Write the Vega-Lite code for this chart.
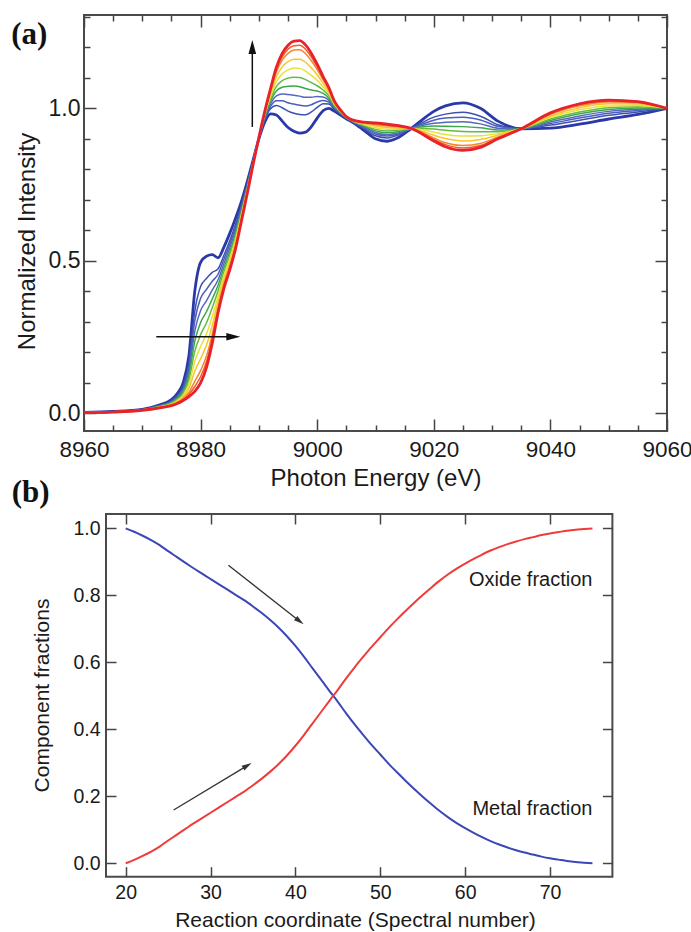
{
"$schema": "https://vega.github.io/schema/vega-lite/v6.json",
"padding": {"left": 10, "top": 4, "right": 0, "bottom": 0},
"background": "white",
"bounds": "flush",
"spacing": 83,
"resolve": {"scale": {"color": "independent"}},
"datasets": {
"spectra": [
{"f":0,"E":8960,"v":0.003},{"f":0,"E":8965,"v":0.006},{"f":0,"E":8970,"v":0.013},{"f":0,"E":8973,"v":0.028},{"f":0,"E":8975,"v":0.045},{"f":0,"E":8976,"v":0.065},{"f":0,"E":8977,"v":0.1},{"f":0,"E":8978,"v":0.19},{"f":0,"E":8979,"v":0.4},{"f":0,"E":8980,"v":0.495},{"f":0,"E":8981,"v":0.515},{"f":0,"E":8982,"v":0.52},{"f":0,"E":8983,"v":0.51},{"f":0,"E":8984,"v":0.545},{"f":0,"E":8985,"v":0.59},{"f":0,"E":8986,"v":0.64},{"f":0,"E":8987,"v":0.695},{"f":0,"E":8988,"v":0.76},{"f":0,"E":8989,"v":0.83},{"f":0,"E":8990,"v":0.9},{"f":0,"E":8991,"v":0.955},{"f":0,"E":8992,"v":0.982},{"f":0,"E":8993,"v":0.978},{"f":0,"E":8994,"v":0.958},{"f":0,"E":8995,"v":0.937},{"f":0,"E":8996,"v":0.925},{"f":0,"E":8997,"v":0.919},{"f":0,"E":8998,"v":0.922},{"f":0,"E":8999,"v":0.94},{"f":0,"E":9000,"v":0.968},{"f":0,"E":9001,"v":0.992},{"f":0,"E":9002,"v":1.0},{"f":0,"E":9003,"v":0.99},{"f":0,"E":9004,"v":0.978},{"f":0,"E":9005,"v":0.966},{"f":0,"E":9006,"v":0.955},{"f":0,"E":9008,"v":0.928},{"f":0,"E":9010,"v":0.9},{"f":0,"E":9012,"v":0.892},{"f":0,"E":9014,"v":0.905},{"f":0,"E":9016,"v":0.932},{"f":0,"E":9018,"v":0.962},{"f":0,"E":9020,"v":0.99},{"f":0,"E":9022,"v":1.008},{"f":0,"E":9025,"v":1.018},{"f":0,"E":9028,"v":1.0},{"f":0,"E":9031,"v":0.958},{"f":0,"E":9035,"v":0.933},{"f":0,"E":9040,"v":0.935},{"f":0,"E":9045,"v":0.948},{"f":0,"E":9050,"v":0.965},{"f":0,"E":9055,"v":0.98},{"f":0,"E":9060,"v":1.0},
{"f":0.2,"E":8960,"v":0.003},{"f":0.2,"E":8965,"v":0.006},{"f":0.2,"E":8970,"v":0.012},{"f":0.2,"E":8973,"v":0.026},{"f":0.2,"E":8975,"v":0.041},{"f":0.2,"E":8976,"v":0.058},{"f":0.2,"E":8977,"v":0.088},{"f":0.2,"E":8978,"v":0.163},{"f":0.2,"E":8979,"v":0.334},{"f":0.2,"E":8980,"v":0.416},{"f":0.2,"E":8981,"v":0.442},{"f":0.2,"E":8982,"v":0.462},{"f":0.2,"E":8983,"v":0.474},{"f":0.2,"E":8984,"v":0.518},{"f":0.2,"E":8985,"v":0.566},{"f":0.2,"E":8986,"v":0.62},{"f":0.2,"E":8987,"v":0.682},{"f":0.2,"E":8988,"v":0.752},{"f":0.2,"E":8989,"v":0.827},{"f":0.2,"E":8990,"v":0.901},{"f":0.2,"E":8991,"v":0.962},{"f":0.2,"E":8992,"v":0.999},{"f":0.2,"E":8993,"v":1.009},{"f":0.2,"E":8994,"v":1.002},{"f":0.2,"E":8995,"v":0.991},{"f":0.2,"E":8996,"v":0.984},{"f":0.2,"E":8997,"v":0.98},{"f":0.2,"E":8998,"v":0.979},{"f":0.2,"E":8999,"v":0.988},{"f":0.2,"E":9000,"v":1.003},{"f":0.2,"E":9001,"v":1.015},{"f":0.2,"E":9002,"v":1.014},{"f":0.2,"E":9003,"v":0.996},{"f":0.2,"E":9004,"v":0.981},{"f":0.2,"E":9005,"v":0.967},{"f":0.2,"E":9006,"v":0.956},{"f":0.2,"E":9008,"v":0.933},{"f":0.2,"E":9010,"v":0.91},{"f":0.2,"E":9012,"v":0.903},{"f":0.2,"E":9014,"v":0.913},{"f":0.2,"E":9016,"v":0.933},{"f":0.2,"E":9018,"v":0.953},{"f":0.2,"E":9020,"v":0.971},{"f":0.2,"E":9022,"v":0.981},{"f":0.2,"E":9025,"v":0.987},{"f":0.2,"E":9028,"v":0.974},{"f":0.2,"E":9031,"v":0.946},{"f":0.2,"E":9035,"v":0.933},{"f":0.2,"E":9040,"v":0.945},{"f":0.2,"E":9045,"v":0.961},{"f":0.2,"E":9050,"v":0.977},{"f":0.2,"E":9055,"v":0.988},{"f":0.2,"E":9060,"v":1.0},
{"f":0.3,"E":8960,"v":0.003},{"f":0.3,"E":8965,"v":0.005},{"f":0.3,"E":8970,"v":0.012},{"f":0.3,"E":8973,"v":0.025},{"f":0.3,"E":8975,"v":0.039},{"f":0.3,"E":8976,"v":0.055},{"f":0.3,"E":8977,"v":0.083},{"f":0.3,"E":8978,"v":0.15},{"f":0.3,"E":8979,"v":0.302},{"f":0.3,"E":8980,"v":0.377},{"f":0.3,"E":8981,"v":0.406},{"f":0.3,"E":8982,"v":0.433},{"f":0.3,"E":8983,"v":0.456},{"f":0.3,"E":8984,"v":0.505},{"f":0.3,"E":8985,"v":0.554},{"f":0.3,"E":8986,"v":0.61},{"f":0.3,"E":8987,"v":0.676},{"f":0.3,"E":8988,"v":0.748},{"f":0.3,"E":8989,"v":0.826},{"f":0.3,"E":8990,"v":0.902},{"f":0.3,"E":8991,"v":0.966},{"f":0.3,"E":8992,"v":1.007},{"f":0.3,"E":8993,"v":1.025},{"f":0.3,"E":8994,"v":1.025},{"f":0.3,"E":8995,"v":1.018},{"f":0.3,"E":8996,"v":1.014},{"f":0.3,"E":8997,"v":1.01},{"f":0.3,"E":8998,"v":1.008},{"f":0.3,"E":8999,"v":1.012},{"f":0.3,"E":9000,"v":1.021},{"f":0.3,"E":9001,"v":1.026},{"f":0.3,"E":9002,"v":1.02},{"f":0.3,"E":9003,"v":1.0},{"f":0.3,"E":9004,"v":0.983},{"f":0.3,"E":9005,"v":0.968},{"f":0.3,"E":9006,"v":0.957},{"f":0.3,"E":9008,"v":0.936},{"f":0.3,"E":9010,"v":0.916},{"f":0.3,"E":9012,"v":0.909},{"f":0.3,"E":9014,"v":0.916},{"f":0.3,"E":9016,"v":0.933},{"f":0.3,"E":9018,"v":0.948},{"f":0.3,"E":9020,"v":0.961},{"f":0.3,"E":9022,"v":0.968},{"f":0.3,"E":9025,"v":0.971},{"f":0.3,"E":9028,"v":0.962},{"f":0.3,"E":9031,"v":0.941},{"f":0.3,"E":9035,"v":0.933},{"f":0.3,"E":9040,"v":0.95},{"f":0.3,"E":9045,"v":0.968},{"f":0.3,"E":9050,"v":0.984},{"f":0.3,"E":9055,"v":0.993},{"f":0.3,"E":9060,"v":1.0},
{"f":0.4,"E":8960,"v":0.003},{"f":0.4,"E":8965,"v":0.005},{"f":0.4,"E":8970,"v":0.012},{"f":0.4,"E":8973,"v":0.024},{"f":0.4,"E":8975,"v":0.037},{"f":0.4,"E":8976,"v":0.052},{"f":0.4,"E":8977,"v":0.077},{"f":0.4,"E":8978,"v":0.136},{"f":0.4,"E":8979,"v":0.269},{"f":0.4,"E":8980,"v":0.337},{"f":0.4,"E":8981,"v":0.369},{"f":0.4,"E":8982,"v":0.404},{"f":0.4,"E":8983,"v":0.438},{"f":0.4,"E":8984,"v":0.491},{"f":0.4,"E":8985,"v":0.542},{"f":0.4,"E":8986,"v":0.6},{"f":0.4,"E":8987,"v":0.669},{"f":0.4,"E":8988,"v":0.744},{"f":0.4,"E":8989,"v":0.824},{"f":0.4,"E":8990,"v":0.902},{"f":0.4,"E":8991,"v":0.969},{"f":0.4,"E":8992,"v":1.015},{"f":0.4,"E":8993,"v":1.041},{"f":0.4,"E":8994,"v":1.047},{"f":0.4,"E":8995,"v":1.045},{"f":0.4,"E":8996,"v":1.043},{"f":0.4,"E":8997,"v":1.04},{"f":0.4,"E":8998,"v":1.036},{"f":0.4,"E":8999,"v":1.036},{"f":0.4,"E":9000,"v":1.039},{"f":0.4,"E":9001,"v":1.037},{"f":0.4,"E":9002,"v":1.027},{"f":0.4,"E":9003,"v":1.003},{"f":0.4,"E":9004,"v":0.985},{"f":0.4,"E":9005,"v":0.969},{"f":0.4,"E":9006,"v":0.958},{"f":0.4,"E":9008,"v":0.939},{"f":0.4,"E":9010,"v":0.921},{"f":0.4,"E":9012,"v":0.914},{"f":0.4,"E":9014,"v":0.92},{"f":0.4,"E":9016,"v":0.933},{"f":0.4,"E":9018,"v":0.944},{"f":0.4,"E":9020,"v":0.951},{"f":0.4,"E":9022,"v":0.954},{"f":0.4,"E":9025,"v":0.956},{"f":0.4,"E":9028,"v":0.949},{"f":0.4,"E":9031,"v":0.935},{"f":0.4,"E":9035,"v":0.933},{"f":0.4,"E":9040,"v":0.955},{"f":0.4,"E":9045,"v":0.975},{"f":0.4,"E":9050,"v":0.99},{"f":0.4,"E":9055,"v":0.997},{"f":0.4,"E":9060,"v":1.0},
{"f":0.5,"E":8960,"v":0.003},{"f":0.5,"E":8965,"v":0.005},{"f":0.5,"E":8970,"v":0.012},{"f":0.5,"E":8973,"v":0.023},{"f":0.5,"E":8975,"v":0.035},{"f":0.5,"E":8976,"v":0.049},{"f":0.5,"E":8977,"v":0.071},{"f":0.5,"E":8978,"v":0.123},{"f":0.5,"E":8979,"v":0.236},{"f":0.5,"E":8980,"v":0.298},{"f":0.5,"E":8981,"v":0.333},{"f":0.5,"E":8982,"v":0.375},{"f":0.5,"E":8983,"v":0.42},{"f":0.5,"E":8984,"v":0.478},{"f":0.5,"E":8985,"v":0.53},{"f":0.5,"E":8986,"v":0.59},{"f":0.5,"E":8987,"v":0.663},{"f":0.5,"E":8988,"v":0.74},{"f":0.5,"E":8989,"v":0.823},{"f":0.5,"E":8990,"v":0.903},{"f":0.5,"E":8991,"v":0.973},{"f":0.5,"E":8992,"v":1.024},{"f":0.5,"E":8993,"v":1.057},{"f":0.5,"E":8994,"v":1.069},{"f":0.5,"E":8995,"v":1.072},{"f":0.5,"E":8996,"v":1.073},{"f":0.5,"E":8997,"v":1.071},{"f":0.5,"E":8998,"v":1.065},{"f":0.5,"E":8999,"v":1.06},{"f":0.5,"E":9000,"v":1.057},{"f":0.5,"E":9001,"v":1.049},{"f":0.5,"E":9002,"v":1.034},{"f":0.5,"E":9003,"v":1.006},{"f":0.5,"E":9004,"v":0.987},{"f":0.5,"E":9005,"v":0.97},{"f":0.5,"E":9006,"v":0.959},{"f":0.5,"E":9008,"v":0.942},{"f":0.5,"E":9010,"v":0.926},{"f":0.5,"E":9012,"v":0.92},{"f":0.5,"E":9014,"v":0.924},{"f":0.5,"E":9016,"v":0.934},{"f":0.5,"E":9018,"v":0.939},{"f":0.5,"E":9020,"v":0.942},{"f":0.5,"E":9022,"v":0.941},{"f":0.5,"E":9025,"v":0.94},{"f":0.5,"E":9028,"v":0.936},{"f":0.5,"E":9031,"v":0.929},{"f":0.5,"E":9035,"v":0.933},{"f":0.5,"E":9040,"v":0.96},{"f":0.5,"E":9045,"v":0.982},{"f":0.5,"E":9050,"v":0.996},{"f":0.5,"E":9055,"v":1.001},{"f":0.5,"E":9060,"v":1.0},
{"f":0.6,"E":8960,"v":0.002},{"f":0.6,"E":8965,"v":0.005},{"f":0.6,"E":8970,"v":0.011},{"f":0.6,"E":8973,"v":0.022},{"f":0.6,"E":8975,"v":0.033},{"f":0.6,"E":8976,"v":0.045},{"f":0.6,"E":8977,"v":0.065},{"f":0.6,"E":8978,"v":0.109},{"f":0.6,"E":8979,"v":0.203},{"f":0.6,"E":8980,"v":0.258},{"f":0.6,"E":8981,"v":0.296},{"f":0.6,"E":8982,"v":0.346},{"f":0.6,"E":8983,"v":0.402},{"f":0.6,"E":8984,"v":0.464},{"f":0.6,"E":8985,"v":0.518},{"f":0.6,"E":8986,"v":0.58},{"f":0.6,"E":8987,"v":0.656},{"f":0.6,"E":8988,"v":0.736},{"f":0.6,"E":8989,"v":0.821},{"f":0.6,"E":8990,"v":0.903},{"f":0.6,"E":8991,"v":0.976},{"f":0.6,"E":8992,"v":1.032},{"f":0.6,"E":8993,"v":1.072},{"f":0.6,"E":8994,"v":1.091},{"f":0.6,"E":8995,"v":1.099},{"f":0.6,"E":8996,"v":1.102},{"f":0.6,"E":8997,"v":1.101},{"f":0.6,"E":8998,"v":1.094},{"f":0.6,"E":8999,"v":1.084},{"f":0.6,"E":9000,"v":1.074},{"f":0.6,"E":9001,"v":1.06},{"f":0.6,"E":9002,"v":1.041},{"f":0.6,"E":9003,"v":1.009},{"f":0.6,"E":9004,"v":0.988},{"f":0.6,"E":9005,"v":0.97},{"f":0.6,"E":9006,"v":0.959},{"f":0.6,"E":9008,"v":0.944},{"f":0.6,"E":9010,"v":0.931},{"f":0.6,"E":9012,"v":0.926},{"f":0.6,"E":9014,"v":0.928},{"f":0.6,"E":9016,"v":0.934},{"f":0.6,"E":9018,"v":0.934},{"f":0.6,"E":9020,"v":0.932},{"f":0.6,"E":9022,"v":0.928},{"f":0.6,"E":9025,"v":0.924},{"f":0.6,"E":9028,"v":0.923},{"f":0.6,"E":9031,"v":0.923},{"f":0.6,"E":9035,"v":0.933},{"f":0.6,"E":9040,"v":0.965},{"f":0.6,"E":9045,"v":0.988},{"f":0.6,"E":9050,"v":1.002},{"f":0.6,"E":9055,"v":1.005},{"f":0.6,"E":9060,"v":1.0},
{"f":0.7,"E":8960,"v":0.002},{"f":0.7,"E":8965,"v":0.005},{"f":0.7,"E":8970,"v":0.011},{"f":0.7,"E":8973,"v":0.021},{"f":0.7,"E":8975,"v":0.031},{"f":0.7,"E":8976,"v":0.042},{"f":0.7,"E":8977,"v":0.059},{"f":0.7,"E":8978,"v":0.096},{"f":0.7,"E":8979,"v":0.17},{"f":0.7,"E":8980,"v":0.219},{"f":0.7,"E":8981,"v":0.26},{"f":0.7,"E":8982,"v":0.317},{"f":0.7,"E":8983,"v":0.384},{"f":0.7,"E":8984,"v":0.451},{"f":0.7,"E":8985,"v":0.506},{"f":0.7,"E":8986,"v":0.57},{"f":0.7,"E":8987,"v":0.65},{"f":0.7,"E":8988,"v":0.732},{"f":0.7,"E":8989,"v":0.82},{"f":0.7,"E":8990,"v":0.904},{"f":0.7,"E":8991,"v":0.98},{"f":0.7,"E":8992,"v":1.04},{"f":0.7,"E":8993,"v":1.088},{"f":0.7,"E":8994,"v":1.113},{"f":0.7,"E":8995,"v":1.126},{"f":0.7,"E":8996,"v":1.132},{"f":0.7,"E":8997,"v":1.131},{"f":0.7,"E":8998,"v":1.122},{"f":0.7,"E":8999,"v":1.108},{"f":0.7,"E":9000,"v":1.092},{"f":0.7,"E":9001,"v":1.071},{"f":0.7,"E":9002,"v":1.048},{"f":0.7,"E":9003,"v":1.012},{"f":0.7,"E":9004,"v":0.99},{"f":0.7,"E":9005,"v":0.971},{"f":0.7,"E":9006,"v":0.96},{"f":0.7,"E":9008,"v":0.947},{"f":0.7,"E":9010,"v":0.936},{"f":0.7,"E":9012,"v":0.931},{"f":0.7,"E":9014,"v":0.932},{"f":0.7,"E":9016,"v":0.934},{"f":0.7,"E":9018,"v":0.93},{"f":0.7,"E":9020,"v":0.922},{"f":0.7,"E":9022,"v":0.914},{"f":0.7,"E":9025,"v":0.909},{"f":0.7,"E":9028,"v":0.91},{"f":0.7,"E":9031,"v":0.917},{"f":0.7,"E":9035,"v":0.933},{"f":0.7,"E":9040,"v":0.97},{"f":0.7,"E":9045,"v":0.995},{"f":0.7,"E":9050,"v":1.008},{"f":0.7,"E":9055,"v":1.009},{"f":0.7,"E":9060,"v":1.0},
{"f":0.8,"E":8960,"v":0.002},{"f":0.8,"E":8965,"v":0.004},{"f":0.8,"E":8970,"v":0.011},{"f":0.8,"E":8973,"v":0.02},{"f":0.8,"E":8975,"v":0.029},{"f":0.8,"E":8976,"v":0.039},{"f":0.8,"E":8977,"v":0.054},{"f":0.8,"E":8978,"v":0.082},{"f":0.8,"E":8979,"v":0.138},{"f":0.8,"E":8980,"v":0.179},{"f":0.8,"E":8981,"v":0.223},{"f":0.8,"E":8982,"v":0.288},{"f":0.8,"E":8983,"v":0.366},{"f":0.8,"E":8984,"v":0.437},{"f":0.8,"E":8985,"v":0.494},{"f":0.8,"E":8986,"v":0.56},{"f":0.8,"E":8987,"v":0.643},{"f":0.8,"E":8988,"v":0.728},{"f":0.8,"E":8989,"v":0.818},{"f":0.8,"E":8990,"v":0.904},{"f":0.8,"E":8991,"v":0.983},{"f":0.8,"E":8992,"v":1.048},{"f":0.8,"E":8993,"v":1.104},{"f":0.8,"E":8994,"v":1.136},{"f":0.8,"E":8995,"v":1.153},{"f":0.8,"E":8996,"v":1.161},{"f":0.8,"E":8997,"v":1.161},{"f":0.8,"E":8998,"v":1.151},{"f":0.8,"E":8999,"v":1.132},{"f":0.8,"E":9000,"v":1.11},{"f":0.8,"E":9001,"v":1.082},{"f":0.8,"E":9002,"v":1.054},{"f":0.8,"E":9003,"v":1.016},{"f":0.8,"E":9004,"v":0.992},{"f":0.8,"E":9005,"v":0.972},{"f":0.8,"E":9006,"v":0.961},{"f":0.8,"E":9008,"v":0.95},{"f":0.8,"E":9010,"v":0.942},{"f":0.8,"E":9012,"v":0.937},{"f":0.8,"E":9014,"v":0.935},{"f":0.8,"E":9016,"v":0.934},{"f":0.8,"E":9018,"v":0.925},{"f":0.8,"E":9020,"v":0.912},{"f":0.8,"E":9022,"v":0.901},{"f":0.8,"E":9025,"v":0.893},{"f":0.8,"E":9028,"v":0.898},{"f":0.8,"E":9031,"v":0.912},{"f":0.8,"E":9035,"v":0.933},{"f":0.8,"E":9040,"v":0.975},{"f":0.8,"E":9045,"v":1.002},{"f":0.8,"E":9050,"v":1.015},{"f":0.8,"E":9055,"v":1.014},{"f":0.8,"E":9060,"v":1.0},
{"f":0.9,"E":8960,"v":0.002},{"f":0.9,"E":8965,"v":0.004},{"f":0.9,"E":8970,"v":0.01},{"f":0.9,"E":8973,"v":0.019},{"f":0.9,"E":8975,"v":0.027},{"f":0.9,"E":8976,"v":0.035},{"f":0.9,"E":8977,"v":0.048},{"f":0.9,"E":8978,"v":0.069},{"f":0.9,"E":8979,"v":0.105},{"f":0.9,"E":8980,"v":0.14},{"f":0.9,"E":8981,"v":0.187},{"f":0.9,"E":8982,"v":0.259},{"f":0.9,"E":8983,"v":0.348},{"f":0.9,"E":8984,"v":0.424},{"f":0.9,"E":8985,"v":0.482},{"f":0.9,"E":8986,"v":0.55},{"f":0.9,"E":8987,"v":0.637},{"f":0.9,"E":8988,"v":0.724},{"f":0.9,"E":8989,"v":0.817},{"f":0.9,"E":8990,"v":0.905},{"f":0.9,"E":8991,"v":0.987},{"f":0.9,"E":8992,"v":1.057},{"f":0.9,"E":8993,"v":1.119},{"f":0.9,"E":8994,"v":1.158},{"f":0.9,"E":8995,"v":1.18},{"f":0.9,"E":8996,"v":1.191},{"f":0.9,"E":8997,"v":1.192},{"f":0.9,"E":8998,"v":1.179},{"f":0.9,"E":8999,"v":1.156},{"f":0.9,"E":9000,"v":1.127},{"f":0.9,"E":9001,"v":1.094},{"f":0.9,"E":9002,"v":1.061},{"f":0.9,"E":9003,"v":1.019},{"f":0.9,"E":9004,"v":0.993},{"f":0.9,"E":9005,"v":0.972},{"f":0.9,"E":9006,"v":0.961},{"f":0.9,"E":9008,"v":0.952},{"f":0.9,"E":9010,"v":0.947},{"f":0.9,"E":9012,"v":0.942},{"f":0.9,"E":9014,"v":0.939},{"f":0.9,"E":9016,"v":0.935},{"f":0.9,"E":9018,"v":0.921},{"f":0.9,"E":9020,"v":0.903},{"f":0.9,"E":9022,"v":0.887},{"f":0.9,"E":9025,"v":0.878},{"f":0.9,"E":9028,"v":0.885},{"f":0.9,"E":9031,"v":0.906},{"f":0.9,"E":9035,"v":0.933},{"f":0.9,"E":9040,"v":0.98},{"f":0.9,"E":9045,"v":1.008},{"f":0.9,"E":9050,"v":1.021},{"f":0.9,"E":9055,"v":1.018},{"f":0.9,"E":9060,"v":1.0},
{"f":0.95,"E":8960,"v":0.002},{"f":0.95,"E":8965,"v":0.004},{"f":0.95,"E":8970,"v":0.01},{"f":0.95,"E":8973,"v":0.019},{"f":0.95,"E":8975,"v":0.026},{"f":0.95,"E":8976,"v":0.034},{"f":0.95,"E":8977,"v":0.045},{"f":0.95,"E":8978,"v":0.062},{"f":0.95,"E":8979,"v":0.088},{"f":0.95,"E":8980,"v":0.12},{"f":0.95,"E":8981,"v":0.168},{"f":0.95,"E":8982,"v":0.245},{"f":0.95,"E":8983,"v":0.339},{"f":0.95,"E":8984,"v":0.417},{"f":0.95,"E":8985,"v":0.476},{"f":0.95,"E":8986,"v":0.545},{"f":0.95,"E":8987,"v":0.633},{"f":0.95,"E":8988,"v":0.722},{"f":0.95,"E":8989,"v":0.816},{"f":0.95,"E":8990,"v":0.905},{"f":0.95,"E":8991,"v":0.988},{"f":0.95,"E":8992,"v":1.061},{"f":0.95,"E":8993,"v":1.127},{"f":0.95,"E":8994,"v":1.169},{"f":0.95,"E":8995,"v":1.194},{"f":0.95,"E":8996,"v":1.205},{"f":0.95,"E":8997,"v":1.207},{"f":0.95,"E":8998,"v":1.194},{"f":0.95,"E":8999,"v":1.168},{"f":0.95,"E":9000,"v":1.136},{"f":0.95,"E":9001,"v":1.099},{"f":0.95,"E":9002,"v":1.065},{"f":0.95,"E":9003,"v":1.02},{"f":0.95,"E":9004,"v":0.994},{"f":0.95,"E":9005,"v":0.973},{"f":0.95,"E":9006,"v":0.962},{"f":0.95,"E":9008,"v":0.954},{"f":0.95,"E":9010,"v":0.949},{"f":0.95,"E":9012,"v":0.945},{"f":0.95,"E":9014,"v":0.941},{"f":0.95,"E":9016,"v":0.935},{"f":0.95,"E":9018,"v":0.918},{"f":0.95,"E":9020,"v":0.898},{"f":0.95,"E":9022,"v":0.881},{"f":0.95,"E":9025,"v":0.87},{"f":0.95,"E":9028,"v":0.878},{"f":0.95,"E":9031,"v":0.903},{"f":0.95,"E":9035,"v":0.933},{"f":0.95,"E":9040,"v":0.983},{"f":0.95,"E":9045,"v":1.012},{"f":0.95,"E":9050,"v":1.024},{"f":0.95,"E":9055,"v":1.02},{"f":0.95,"E":9060,"v":1.0},
{"f":1,"E":8960,"v":0.002},{"f":1,"E":8965,"v":0.004},{"f":1,"E":8970,"v":0.01},{"f":1,"E":8973,"v":0.018},{"f":1,"E":8975,"v":0.025},{"f":1,"E":8976,"v":0.032},{"f":1,"E":8977,"v":0.042},{"f":1,"E":8978,"v":0.055},{"f":1,"E":8979,"v":0.072},{"f":1,"E":8980,"v":0.1},{"f":1,"E":8981,"v":0.15},{"f":1,"E":8982,"v":0.23},{"f":1,"E":8983,"v":0.33},{"f":1,"E":8984,"v":0.41},{"f":1,"E":8985,"v":0.47},{"f":1,"E":8986,"v":0.54},{"f":1,"E":8987,"v":0.63},{"f":1,"E":8988,"v":0.72},{"f":1,"E":8989,"v":0.815},{"f":1,"E":8990,"v":0.905},{"f":1,"E":8991,"v":0.99},{"f":1,"E":8992,"v":1.065},{"f":1,"E":8993,"v":1.135},{"f":1,"E":8994,"v":1.18},{"f":1,"E":8995,"v":1.207},{"f":1,"E":8996,"v":1.22},{"f":1,"E":8997,"v":1.222},{"f":1,"E":8998,"v":1.208},{"f":1,"E":8999,"v":1.18},{"f":1,"E":9000,"v":1.145},{"f":1,"E":9001,"v":1.105},{"f":1,"E":9002,"v":1.068},{"f":1,"E":9003,"v":1.022},{"f":1,"E":9004,"v":0.995},{"f":1,"E":9005,"v":0.973},{"f":1,"E":9006,"v":0.962},{"f":1,"E":9008,"v":0.955},{"f":1,"E":9010,"v":0.952},{"f":1,"E":9012,"v":0.948},{"f":1,"E":9014,"v":0.943},{"f":1,"E":9016,"v":0.935},{"f":1,"E":9018,"v":0.916},{"f":1,"E":9020,"v":0.893},{"f":1,"E":9022,"v":0.874},{"f":1,"E":9025,"v":0.862},{"f":1,"E":9028,"v":0.872},{"f":1,"E":9031,"v":0.9},{"f":1,"E":9035,"v":0.933},{"f":1,"E":9040,"v":0.985},{"f":1,"E":9045,"v":1.015},{"f":1,"E":9050,"v":1.027},{"f":1,"E":9055,"v":1.022},{"f":1,"E":9060,"v":1.0}
],
"fractions": [
{"s":"Metal","n":20,"v":1.0},{"s":"Metal","n":21,"v":0.99},{"s":"Metal","n":22,"v":0.978},{"s":"Metal","n":23,"v":0.965},{"s":"Metal","n":24,"v":0.95},{"s":"Metal","n":25,"v":0.932},{"s":"Metal","n":26,"v":0.915},{"s":"Metal","n":27,"v":0.898},{"s":"Metal","n":28,"v":0.881},{"s":"Metal","n":29,"v":0.865},{"s":"Metal","n":30,"v":0.849},{"s":"Metal","n":31,"v":0.833},{"s":"Metal","n":32,"v":0.817},{"s":"Metal","n":33,"v":0.801},{"s":"Metal","n":34,"v":0.785},{"s":"Metal","n":35,"v":0.767},{"s":"Metal","n":36,"v":0.748},{"s":"Metal","n":37,"v":0.727},{"s":"Metal","n":38,"v":0.704},{"s":"Metal","n":39,"v":0.678},{"s":"Metal","n":40,"v":0.649},{"s":"Metal","n":41,"v":0.617},{"s":"Metal","n":42,"v":0.583},{"s":"Metal","n":43,"v":0.549},{"s":"Metal","n":44,"v":0.515},{"s":"Metal","n":45,"v":0.482},{"s":"Metal","n":46,"v":0.447},{"s":"Metal","n":47,"v":0.414},{"s":"Metal","n":48,"v":0.383},{"s":"Metal","n":49,"v":0.353},{"s":"Metal","n":50,"v":0.325},{"s":"Metal","n":51,"v":0.297},{"s":"Metal","n":52,"v":0.271},{"s":"Metal","n":53,"v":0.246},{"s":"Metal","n":54,"v":0.222},{"s":"Metal","n":55,"v":0.199},{"s":"Metal","n":56,"v":0.177},{"s":"Metal","n":57,"v":0.156},{"s":"Metal","n":58,"v":0.137},{"s":"Metal","n":59,"v":0.12},{"s":"Metal","n":60,"v":0.105},{"s":"Metal","n":61,"v":0.091},{"s":"Metal","n":62,"v":0.078},{"s":"Metal","n":63,"v":0.066},{"s":"Metal","n":64,"v":0.056},{"s":"Metal","n":65,"v":0.047},{"s":"Metal","n":66,"v":0.039},{"s":"Metal","n":67,"v":0.032},{"s":"Metal","n":68,"v":0.026},{"s":"Metal","n":69,"v":0.02},{"s":"Metal","n":70,"v":0.015},{"s":"Metal","n":71,"v":0.011},{"s":"Metal","n":72,"v":0.007},{"s":"Metal","n":73,"v":0.004},{"s":"Metal","n":74,"v":0.002},{"s":"Metal","n":75,"v":0.0},
{"s":"Oxide","n":20,"v":0.0},{"s":"Oxide","n":21,"v":0.01},{"s":"Oxide","n":22,"v":0.022},{"s":"Oxide","n":23,"v":0.035},{"s":"Oxide","n":24,"v":0.05},{"s":"Oxide","n":25,"v":0.068},{"s":"Oxide","n":26,"v":0.085},{"s":"Oxide","n":27,"v":0.102},{"s":"Oxide","n":28,"v":0.119},{"s":"Oxide","n":29,"v":0.135},{"s":"Oxide","n":30,"v":0.151},{"s":"Oxide","n":31,"v":0.167},{"s":"Oxide","n":32,"v":0.183},{"s":"Oxide","n":33,"v":0.199},{"s":"Oxide","n":34,"v":0.215},{"s":"Oxide","n":35,"v":0.233},{"s":"Oxide","n":36,"v":0.252},{"s":"Oxide","n":37,"v":0.273},{"s":"Oxide","n":38,"v":0.296},{"s":"Oxide","n":39,"v":0.322},{"s":"Oxide","n":40,"v":0.351},{"s":"Oxide","n":41,"v":0.383},{"s":"Oxide","n":42,"v":0.417},{"s":"Oxide","n":43,"v":0.451},{"s":"Oxide","n":44,"v":0.485},{"s":"Oxide","n":45,"v":0.518},{"s":"Oxide","n":46,"v":0.553},{"s":"Oxide","n":47,"v":0.586},{"s":"Oxide","n":48,"v":0.617},{"s":"Oxide","n":49,"v":0.647},{"s":"Oxide","n":50,"v":0.675},{"s":"Oxide","n":51,"v":0.703},{"s":"Oxide","n":52,"v":0.729},{"s":"Oxide","n":53,"v":0.754},{"s":"Oxide","n":54,"v":0.778},{"s":"Oxide","n":55,"v":0.801},{"s":"Oxide","n":56,"v":0.823},{"s":"Oxide","n":57,"v":0.844},{"s":"Oxide","n":58,"v":0.863},{"s":"Oxide","n":59,"v":0.88},{"s":"Oxide","n":60,"v":0.895},{"s":"Oxide","n":61,"v":0.909},{"s":"Oxide","n":62,"v":0.922},{"s":"Oxide","n":63,"v":0.934},{"s":"Oxide","n":64,"v":0.944},{"s":"Oxide","n":65,"v":0.953},{"s":"Oxide","n":66,"v":0.961},{"s":"Oxide","n":67,"v":0.968},{"s":"Oxide","n":68,"v":0.974},{"s":"Oxide","n":69,"v":0.98},{"s":"Oxide","n":70,"v":0.985},{"s":"Oxide","n":71,"v":0.989},{"s":"Oxide","n":72,"v":0.993},{"s":"Oxide","n":73,"v":0.996},{"s":"Oxide","n":74,"v":0.998},{"s":"Oxide","n":75,"v":1.0}
],
"arrowsA": [
{"x":8988.87,"y":0.939,"x2":8988.87,"y2":1.201},
{"x":8972.4,"y":0.251,"x2":8985.61,"y2":0.251}
],
"arrowsB": [
{"x":32.1,"y":0.89,"x2":40.5,"y2":0.723},
{"x":25.65,"y":0.159,"x2":34.33,"y2":0.2916}
],
"notesB": [
{"x":75.0,"y":0.846,"label":"Oxide fraction"},
{"x":75.0,"y":0.162,"label":"Metal fraction"}
]
},
"vconcat": [
{
"width": 583,
"height": 416,
"resolve": {"axis": {"x": "independent", "y": "independent"}},
"layer": [
{
"data": {"name": "spectra"},
"mark": {"type": "line", "interpolate": "monotone"},
"encoding": {
"x": {"field": "E", "type": "quantitative", "scale": {"domain": [8960, 9060], "nice": false, "zero": false},
"axis": {"orient": "bottom", "values": [8960,8965,8970,8975,8980,8985,8990,8995,9000,9005,9010,9015,9020,9025,9030,9035,9040,9045,9050,9055,9060], "format": "d", "labelExpr": "datum.value % 20 === 0 ? datum.label : ''", "tickSize": {"condition": {"test": "datum.value % 20 === 0", "value": -12}, "value": -6}, "labelPadding": 19, "labelFontSize": 22.5, "title": "Photon Energy (eV)", "titleFontSize": 24, "titleY": 54, "titleBaseline": "alphabetic"}},
"y": {"field": "v", "type": "quantitative", "scale": {"domain": [-0.058, 1.306], "nice": false, "zero": false},
"axis": {"orient": "left", "values": [0,0.1,0.2,0.3,0.4,0.5,0.6,0.7,0.8,0.9,1,1.1,1.2,1.3], "labelExpr": "abs(datum.value*2 - round(datum.value*2)) < 0.001 ? format(datum.value, '.1f') : ''", "tickSize": {"condition": {"test": "abs(datum.value*2 - round(datum.value*2)) < 0.001", "value": -12}, "value": -6}, "labelPadding": 16, "labelFontSize": 23, "title": "Normalized Intensity", "titleFontSize": 24, "titleX": -50, "titleY": 226, "titleBaseline": "alphabetic", "titleAngle": -90}},
"color": {"field": "f", "type": "ordinal", "legend": null, "scale": {"domain": [0,0.2,0.3,0.4,0.5,0.6,0.7,0.8,0.9,0.95,1], "range": ["#2a39a6","#3d4fb4","#4b5dbd","#5567c3","#3ea64a","#63bb47","#e9e233","#f7c52d","#f5852c","#f1582a","#e8222a"]}},
"strokeWidth": {"condition": {"test": "datum.f === 0 || datum.f === 1", "value": 2.8}, "value": 1.5}
}
},
{
"data": {"name": "arrowsA"},
"mark": {"type": "rule", "color": "#111111", "strokeWidth": 1.5},
"encoding": {
"x": {"field": "x", "type": "quantitative", "scale": {"domain": [8960, 9060], "nice": false, "zero": false},
"axis": {"orient": "top", "values": [8960,8965,8970,8975,8980,8985,8990,8995,9000,9005,9010,9015,9020,9025,9030,9035,9040,9045,9050,9055,9060], "labels": false, "title": null, "tickSize": {"condition": {"test": "datum.value % 20 === 0", "value": -12}, "value": -6}}},
"y": {"field": "y", "type": "quantitative", "scale": {"domain": [-0.058, 1.306], "nice": false, "zero": false},
"axis": {"orient": "right", "values": [0,0.1,0.2,0.3,0.4,0.5,0.6,0.7,0.8,0.9,1,1.1,1.2,1.3], "labels": false, "title": null, "tickSize": {"condition": {"test": "abs(datum.value*2 - round(datum.value*2)) < 0.001", "value": -12}, "value": -6}}},
"x2": {"field": "x2"},
"y2": {"field": "y2"}
}
},
{
"data": {"values": [{"x": 8988.87, "y": 1.201}]},
"mark": {"type": "point", "shape": "M0,-1L0.55,1L-0.55,1Z", "filled": true, "color": "#111111", "opacity": 1, "size": 196, "angle": 0},
"encoding": {
"x": {"field": "x", "type": "quantitative", "scale": {"domain": [8960, 9060], "nice": false, "zero": false}, "axis": null},
"y": {"field": "y", "type": "quantitative", "scale": {"domain": [-0.058, 1.306], "nice": false, "zero": false}, "axis": null}
}
},
{
"data": {"values": [{"x": 8985.61, "y": 0.251}]},
"mark": {"type": "point", "shape": "M0,-1L0.55,1L-0.55,1Z", "filled": true, "color": "#111111", "opacity": 1, "size": 196, "angle": 90},
"encoding": {
"x": {"field": "x", "type": "quantitative", "scale": {"domain": [8960, 9060], "nice": false, "zero": false}, "axis": null},
"y": {"field": "y", "type": "quantitative", "scale": {"domain": [-0.058, 1.306], "nice": false, "zero": false}, "axis": null}
}
},
{
"data": {"values": [{"x": 8947.53, "y": 1.211, "label": "(a)"}]},
"mark": {"type": "text", "font": "Liberation Serif", "fontWeight": "bold", "fontSize": 31, "align": "left", "baseline": "alphabetic", "color": "#111111"},
"encoding": {
"x": {"field": "x", "type": "quantitative", "scale": {"domain": [8960, 9060], "nice": false, "zero": false}, "axis": null},
"y": {"field": "y", "type": "quantitative", "scale": {"domain": [-0.058, 1.306], "nice": false, "zero": false}, "axis": null},
"text": {"field": "label"}
}
}
]
},
{
"hconcat": [
{
"width": 21.6,
"height": 10,
"data": {"values": []},
"mark": "point",
"view": {"stroke": null}
},
{
"width": 506.4,
"height": 362.7,
"resolve": {"axis": {"x": "independent", "y": "independent"}},
"layer": [
{
"data": {"name": "fractions"},
"mark": {"type": "line", "interpolate": "monotone", "strokeWidth": 2},
"encoding": {
"x": {"field": "n", "type": "quantitative", "scale": {"domain": [17.68, 77.35], "nice": false, "zero": false},
"axis": {"orient": "bottom", "values": [20,30,40,50,60,70], "format": "d", "tickSize": -10, "labelPadding": 17, "labelFontSize": 19.5, "title": "Reaction coordinate (Spectral number)", "titleFontSize": 21, "titleX": 249, "titleY": 49.3, "titleBaseline": "alphabetic"}},
"y": {"field": "v", "type": "quantitative", "scale": {"domain": [-0.04, 1.043], "nice": false, "zero": false},
"axis": {"orient": "left", "values": [0,0.2,0.4,0.6,0.8,1], "format": ".1f", "tickSize": -10, "labelPadding": 16, "labelFontSize": 19.5, "title": "Component fractions", "titleFontSize": 21, "titleX": -58, "titleY": 181, "titleBaseline": "alphabetic", "titleAngle": -90}},
"color": {"field": "s", "type": "nominal", "legend": null, "scale": {"domain": ["Metal", "Oxide"], "range": ["#3a47b5", "#ef3b3b"]}}
}
},
{
"data": {"name": "arrowsB"},
"mark": {"type": "rule", "color": "#333333", "strokeWidth": 1.3},
"encoding": {
"x": {"field": "x", "type": "quantitative", "scale": {"domain": [17.68, 77.35], "nice": false, "zero": false},
"axis": {"orient": "top", "values": [20,30,40,50,60,70], "labels": false, "title": null, "tickSize": -10}},
"y": {"field": "y", "type": "quantitative", "scale": {"domain": [-0.04, 1.043], "nice": false, "zero": false},
"axis": {"orient": "right", "values": [0,0.2,0.4,0.6,0.8,1], "labels": false, "title": null, "tickSize": -10}},
"x2": {"field": "x2"},
"y2": {"field": "y2"}
}
},
{
"data": {"values": [{"x": 40.5, "y": 0.723}]},
"mark": {"type": "point", "shape": "M0,-1L0.55,1L-0.55,1Z", "filled": true, "color": "#333333", "opacity": 1, "size": 100, "angle": 127.4},
"encoding": {
"x": {"field": "x", "type": "quantitative", "scale": {"domain": [17.68, 77.35], "nice": false, "zero": false}, "axis": null},
"y": {"field": "y", "type": "quantitative", "scale": {"domain": [-0.04, 1.043], "nice": false, "zero": false}, "axis": null}
}
},
{
"data": {"values": [{"x": 34.33, "y": 0.2916}]},
"mark": {"type": "point", "shape": "M0,-1L0.55,1L-0.55,1Z", "filled": true, "color": "#333333", "opacity": 1, "size": 100, "angle": 58.9},
"encoding": {
"x": {"field": "x", "type": "quantitative", "scale": {"domain": [17.68, 77.35], "nice": false, "zero": false}, "axis": null},
"y": {"field": "y", "type": "quantitative", "scale": {"domain": [-0.04, 1.043], "nice": false, "zero": false}, "axis": null}
}
},
{
"data": {"name": "notesB"},
"mark": {"type": "text", "align": "right", "baseline": "middle", "fontSize": 20, "font": "Liberation Sans", "color": "#1a1a1a"},
"encoding": {
"x": {"field": "x", "type": "quantitative", "scale": {"domain": [17.68, 77.35], "nice": false, "zero": false}, "axis": null},
"y": {"field": "y", "type": "quantitative", "scale": {"domain": [-0.04, 1.043], "nice": false, "zero": false}, "axis": null},
"text": {"field": "label"}
}
},
{
"data": {"values": [{"x": 6.573, "y": 1.079, "label": "(b)"}]},
"mark": {"type": "text", "font": "Liberation Serif", "fontWeight": "bold", "fontSize": 31, "align": "left", "baseline": "alphabetic", "color": "#111111"},
"encoding": {
"x": {"field": "x", "type": "quantitative", "scale": {"domain": [17.68, 77.35], "nice": false, "zero": false}, "axis": null},
"y": {"field": "y", "type": "quantitative", "scale": {"domain": [-0.04, 1.043], "nice": false, "zero": false}, "axis": null},
"text": {"field": "label"}
}
}
]
}
],
"spacing": 0,
"bounds": "flush"
}
],
"config": {
"view": {"stroke": "#4a4a4a", "strokeWidth": 2},
"axis": {"domain": false, "grid": false, "tickColor": "#444444", "tickWidth": 1.5, "labelFont": "Liberation Sans", "titleFont": "Liberation Sans", "labelColor": "#1a1a1a", "titleColor": "#1a1a1a", "titleFontWeight": "normal", "labelOverlap": false, "labelFlush": false},
"text": {"font": "Liberation Sans"}
}
}
